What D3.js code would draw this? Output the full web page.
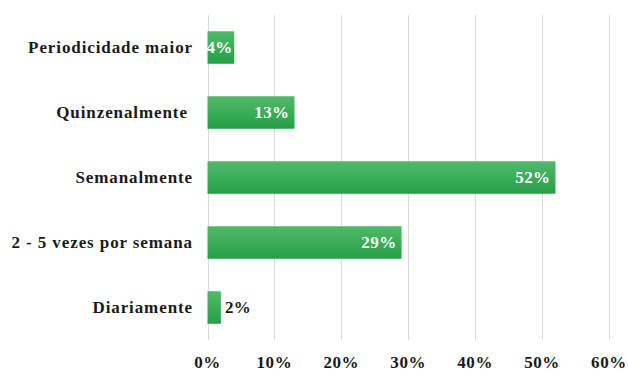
<!DOCTYPE html>
<html>
<head>
<meta charset="utf-8">
<script src="https://cdn.jsdelivr.net/npm/d3@7"></script>
<style>
  html, body { margin: 0; padding: 0; background: #fff; }
  svg { display: block; }
</style>
</head>
<body>
<svg id="chart" width="628" height="374"></svg>
<script>
// Frequency categories (top to bottom) and their shares in percent
const categories = ["Periodicidade maior", "Quinzenalmente ", "Semanalmente", "2 - 5 vezes por semana", "Diariamente"];
const values = [4, 13, 52, 29, 2];
const valueLabels = ["4%", "13%", "52%", "29%", "2%"];
const tickValues = [0, 10, 20, 30, 40, 50, 60];
const tickLabels = ["0%", "10%", "20%", "30%", "40%", "50%", "60%"];

const svg = d3.select("#chart");
const margin = { left: 207.5, right: 19, top: 15, bottom: 34 };
const W = 628, H = 374;
const fontSize = 17;
const fontFamily = '"Liberation Serif", "Times New Roman", serif';

const x = d3.scaleLinear().domain([0, 60]).range([margin.left, W - margin.right]);
const y = d3.scaleBand().domain(categories).range([margin.top, H - margin.bottom]).paddingInner(0.5).paddingOuter(0.25);

// Bar fill: lighter green on top fading to a deeper green
const defs = svg.append("defs");
const grad = defs.append("linearGradient").attr("id", "barGrad")
  .attr("x1", 0).attr("y1", 0).attr("x2", 0).attr("y2", 1);
grad.append("stop").attr("offset", "0%").attr("stop-color", "#52b969");
grad.append("stop").attr("offset", "100%").attr("stop-color", "#25a046");

// Vertical gridlines
svg.append("g").selectAll("line").data(tickValues).join("line")
  .attr("x1", d => Math.round(x(d)) + 0.5).attr("x2", d => Math.round(x(d)) + 0.5)
  .attr("y1", margin.top).attr("y2", H - margin.bottom)
  .attr("stroke", "#d9d9d9").attr("stroke-width", 1);

// Bars
svg.append("g").selectAll("rect").data(values).join("rect")
  .attr("x", x(0))
  .attr("y", (d, i) => y(categories[i]))
  .attr("width", d => x(d) - x(0))
  .attr("height", y.bandwidth())
  .attr("fill", "url(#barGrad)");

function styleText(sel, spacing) {
  return sel.style("font-family", fontFamily)
    .style("font-weight", "bold")
    .style("font-size", fontSize + "px")
    .style("letter-spacing", spacing + "px");
}

// Value labels: inside the bar end, or just outside if the bar is too short
svg.append("g").selectAll("text").data(values).join("text")
  .attr("x", d => d >= 10 ? x(d) - 5 : d >= 4 ? x(d) - 1.5 : x(d) + 4)
  .attr("y", (d, i) => y(categories[i]) + y.bandwidth() / 2)
  .attr("dy", "0.35em")
  .attr("text-anchor", d => d >= 4 ? "end" : "start")
  .attr("fill", d => d >= 4 ? "#ffffff" : "#1a1a1a")
  .call(styleText, 0.4)
  .text((d, i) => valueLabels[i]);

// Category axis labels
svg.append("g").selectAll("text").data(categories).join("text")
  .attr("x", 193)
  .attr("y", d => y(d) + y.bandwidth() / 2)
  .attr("dy", "0.35em")
  .attr("text-anchor", "end")
  .attr("fill", "#1a1a1a")
  .call(styleText, 0.9)
  .style("white-space", "pre")
  .text(d => d);

// Percentage axis tick labels
svg.append("g").selectAll("text").data(tickValues).join("text")
  .attr("x", d => x(d))
  .attr("y", 362.5)
  .attr("dy", "0.35em")
  .attr("text-anchor", "middle")
  .attr("fill", "#1a1a1a")
  .call(styleText, 0.6)
  .text((d, i) => tickLabels[i]);
</script>
</body>
</html>
